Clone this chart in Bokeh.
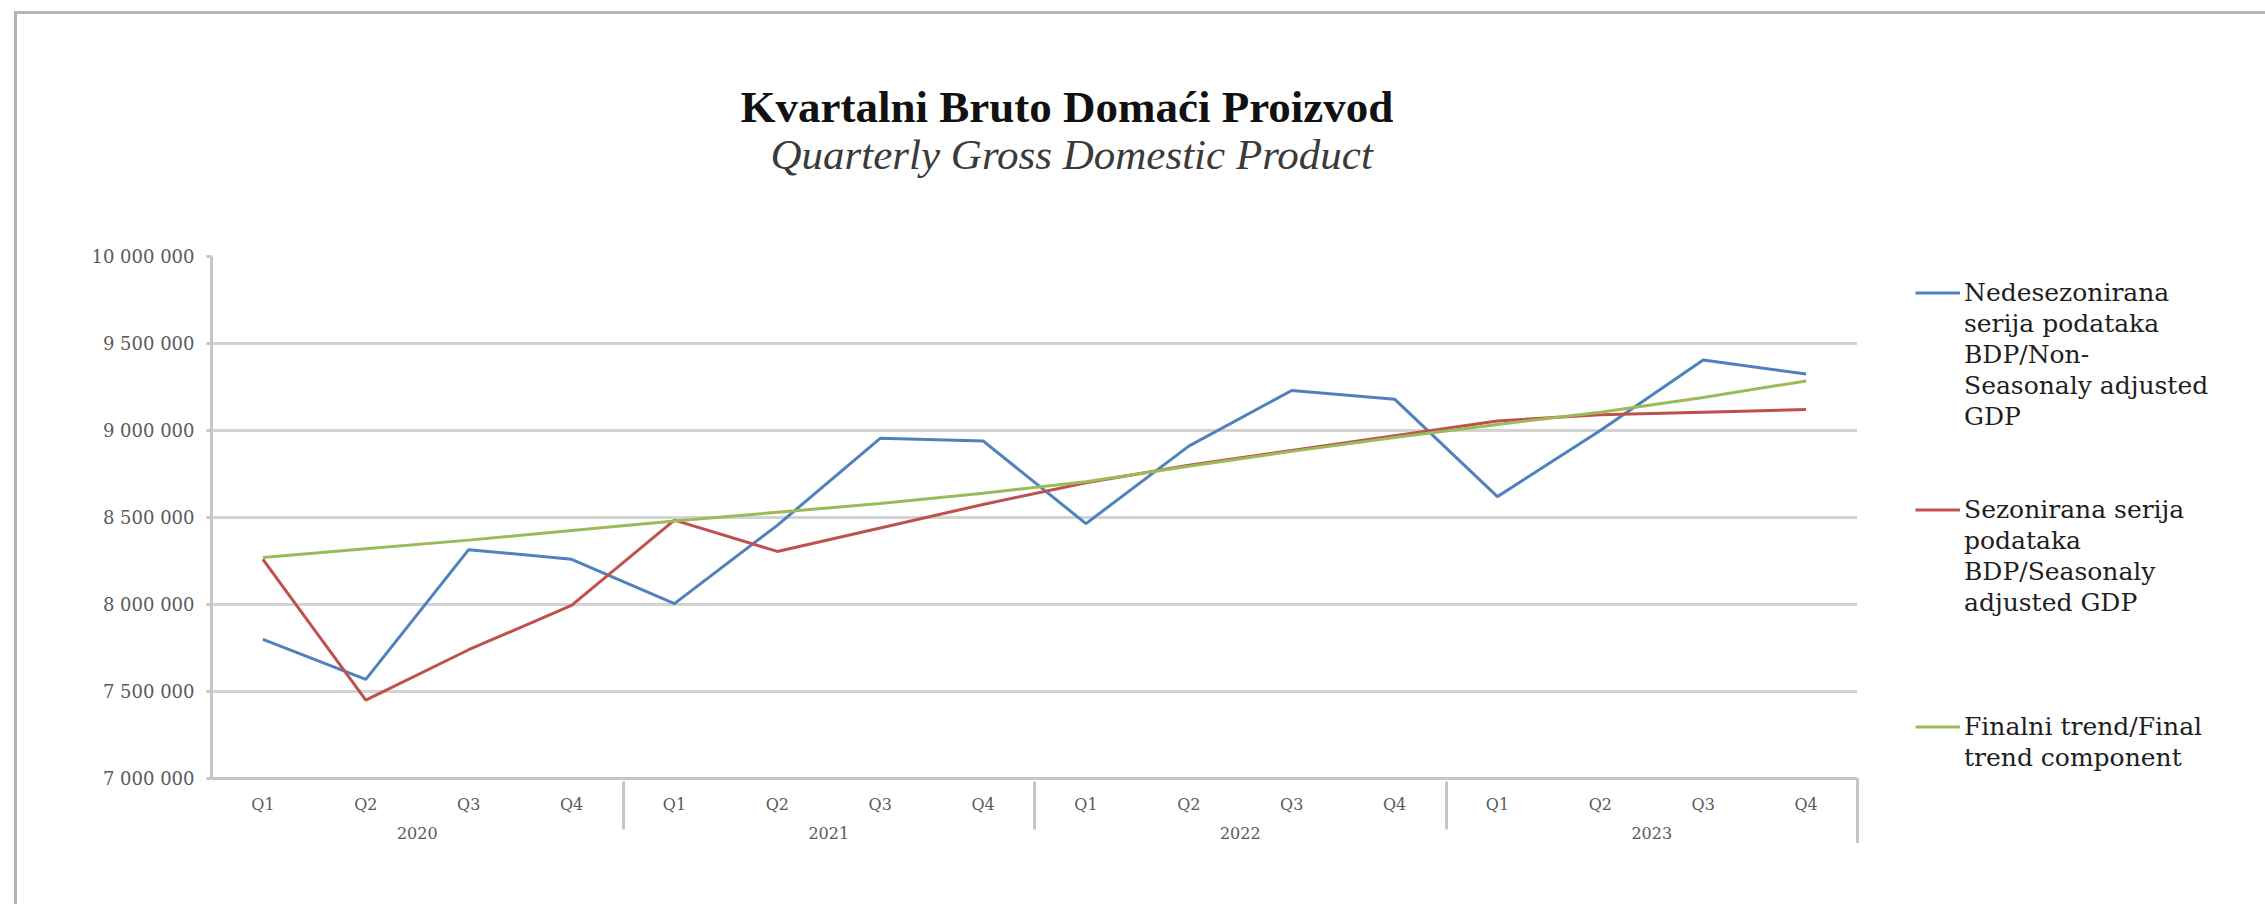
from bokeh.plotting import figure
from bokeh.layouts import row
from bokeh.models import (FactorRange, Range1d, Legend, LegendItem, Title,
                          FixedTicker, InlineStyleSheet)
from bokeh.embed import file_html
from bokeh.resources import INLINE

# ---------------- data ----------------
years = ["2020", "2021", "2022", "2023"]
quarters = ["Q1", "Q2", "Q3", "Q4"]

non_seasonally_adjusted = [7_800_000, 7_570_000, 8_315_000, 8_260_000,
                           8_005_000, 8_455_000, 8_955_000, 8_940_000,
                           8_465_000, 8_910_000, 9_230_000, 9_180_000,
                           8_620_000, 9_000_000, 9_405_000, 9_325_000]
seasonally_adjusted = [8_260_000, 7_450_000, 7_740_000, 7_995_000,
                       8_485_000, 8_305_000, 8_440_000, 8_575_000,
                       8_700_000, 8_800_000, 8_885_000, 8_970_000,
                       9_055_000, 9_090_000, 9_105_000, 9_120_000]
final_trend = [8_270_000, 8_320_000, 8_370_000, 8_425_000,
               8_480_000, 8_530_000, 8_580_000, 8_640_000,
               8_705_000, 8_795_000, 8_880_000, 8_960_000,
               9_035_000, 9_105_000, 9_190_000, 9_285_000]

y_ticks = [7_000_000, 7_500_000, 8_000_000, 8_500_000, 9_000_000, 9_500_000, 10_000_000]
y_tick_labels = ["7 000 000", "7 500 000", "8 000 000", "8 500 000",
                 "9 000 000", "9 500 000", "10 000 000"]

title_text = "Kvartalni Bruto Domaći Proizvod"
subtitle_text = "Quarterly Gross Domestic Product"
# legend texts, one entry per wrapped line (as in the reference)
series_name_lines = [
    ["Nedesezonirana", "serija podataka", "BDP/Non-", "Seasonaly adjusted", "GDP"],
    ["Sezonirana serija", "podataka", "BDP/Seasonaly", "adjusted GDP"],
    ["Finalni trend/Final", "trend component"],
]
series_colors = ["#4F81BD", "#C0504D", "#9BBB59"]

factors = [(y, q) for y in years for q in quarters]
series_values = [non_seasonally_adjusted, seasonally_adjusted, final_trend]

# ---------------- layout constants ----------------
W, H = 2265, 904
FL, FR, FT, FB = 211, 1857, 256, 778   # plot frame edges on the canvas
y_lo, y_hi = 7_000_000, 10_000_000
px_per_unit = (FB - FT) / (y_hi - y_lo)
axis_gray = "#c6c6c6"

page_css = InlineStyleSheet(css=f"""
:host {{ position: relative; }}
:host::after {{
  content: ""; position: absolute; left: 14px; top: 11px; right: 0; bottom: 0;
  border-left: 3px solid #b4b4b4; border-top: 3px solid #b4b4b4;
  pointer-events: none; box-sizing: border-box; z-index: 10;
}}
:host::before {{
  content: ""; position: absolute; left: {FR - 1.5}px; top: {FB}px;
  width: 3px; height: 65px; background: {axis_gray};
  pointer-events: none; z-index: 10;
}}
""")

# ---------------- main chart ----------------
p = figure(width=FR, height=H, title=None,
           x_range=FactorRange(*factors, factor_padding=0, group_padding=0,
                               subgroup_padding=0, range_padding=0),
           y_range=Range1d(y_lo, y_hi),
           output_backend="svg", toolbar_location=None,
           min_border_left=FL, min_border_right=0,
           min_border_top=FT, min_border_bottom=H - FB)
p.outline_line_color = None
p.background_fill_color = "white"
p.border_fill_color = "white"

for vals, col in zip(series_values, series_colors):
    p.line(x=factors, y=vals, line_color=col, line_width=3)

# grid
p.xgrid.grid_line_color = None
p.ygrid.grid_line_color = "#d3d3d3"
p.ygrid.grid_line_width = 3

# y axis (its line continues below the frame as the left edge of the category axis)
p.yaxis.ticker = FixedTicker(ticks=y_ticks)
p.yaxis.major_label_overrides = dict(zip(y_ticks, y_tick_labels))
p.yaxis.bounds = (y_lo - 65 / px_per_unit, y_hi)
p.yaxis.axis_line_color = axis_gray
p.yaxis.axis_line_width = 3
p.yaxis.major_tick_line_color = axis_gray
p.yaxis.major_tick_line_width = 3
p.yaxis.major_tick_out = 5
p.yaxis.major_tick_in = 0
p.yaxis.minor_tick_line_color = None
p.yaxis.major_label_standoff = 12
p.yaxis.major_label_text_font = "DejaVu Serif"
p.yaxis.major_label_text_font_size = "18px"
p.yaxis.major_label_text_color = "#5a5a5a"

# x axis
p.xaxis.axis_line_color = axis_gray
p.xaxis.axis_line_width = 3
p.xaxis.major_tick_line_color = None
p.xaxis.minor_tick_line_color = None
p.xaxis.major_label_standoff = 10
p.xaxis.major_label_text_font = "DejaVu Serif"
p.xaxis.major_label_text_font_size = "16px"
p.xaxis.major_label_text_color = "#5a5a5a"
p.xaxis.group_text_font = "DejaVu Serif"
p.xaxis.group_text_font_size = "16px"
p.xaxis.group_text_font_style = "normal"
p.xaxis.group_text_color = "#5a5a5a"
p.xaxis.separator_line_color = axis_gray
p.xaxis.separator_line_width = 3

# titles (stacked above the frame: spacer, subtitle, title)
def mk_title(text, size, style, color, left_x, standoff=0):
    t = Title(text=text, align="left", offset=left_x - FL,
              text_font="Liberation Serif", text_font_size=size,
              text_font_style=style, text_color=color)
    if "standoff" in t.properties():
        try:
            t.standoff = standoff
        except ValueError:
            t.standoff = 0
    return t

p.add_layout(mk_title(" ", "70px", "normal", "white", FL), "above")
p.add_layout(mk_title(subtitle_text, "43px", "italic", "#3a3a3a", 770), "above")
p.add_layout(mk_title(title_text, "45px", "bold", "#111111", 740, -6), "above")

# ---------------- legend panel (separate canvas to the right) ----------------
lf = figure(width=W - FR, height=H, title=None,
            x_range=FactorRange(*factors), y_range=Range1d(0, 1),
            output_backend="svg", toolbar_location=None,
            x_axis_location=None, y_axis_location=None,
            min_border_left=0, min_border_right=0,
            min_border_top=FT, min_border_bottom=H - FB)
lf.outline_line_color = None
lf.grid.visible = False
lf.background_fill_color = "white"
lf.border_fill_color = "white"

# key renderers carry the series (outside this panel's visible range)
keys = [lf.line(x=factors, y=vals, line_color=c, line_width=3)
        for vals, c in zip(series_values, series_colors)]
blank = lf.line(x=[], y=[], line_alpha=0)

slot_rows = 7
items = []
for k, (lines, r) in enumerate(zip(series_name_lines, keys)):
    rows = list(lines)
    if k < len(series_name_lines) - 1:
        rows += [" "] * (slot_rows - len(lines))
    for j, txt in enumerate(rows):
        items.append(LegendItem(label=txt, renderers=[r if j == 0 else blank]))

row_h = 31
legend_h = row_h * len(items)
legend_top = 277
legend = Legend(items=items,
                location=(1915 - FR, FB - (legend_top + legend_h)),
                orientation="vertical",
                border_line_color=None, background_fill_alpha=0,
                padding=0, margin=0, spacing=0,
                glyph_width=45, glyph_height=row_h, label_height=row_h,
                label_standoff=4,
                label_text_font="DejaVu Serif", label_text_font_size="25px",
                label_text_baseline="middle",
                label_text_color="#1e1e1e")
lf.add_layout(legend)

layout = row(p, lf, spacing=0, stylesheets=[page_css])

open("out.html", "w").write(file_html(layout, INLINE))
